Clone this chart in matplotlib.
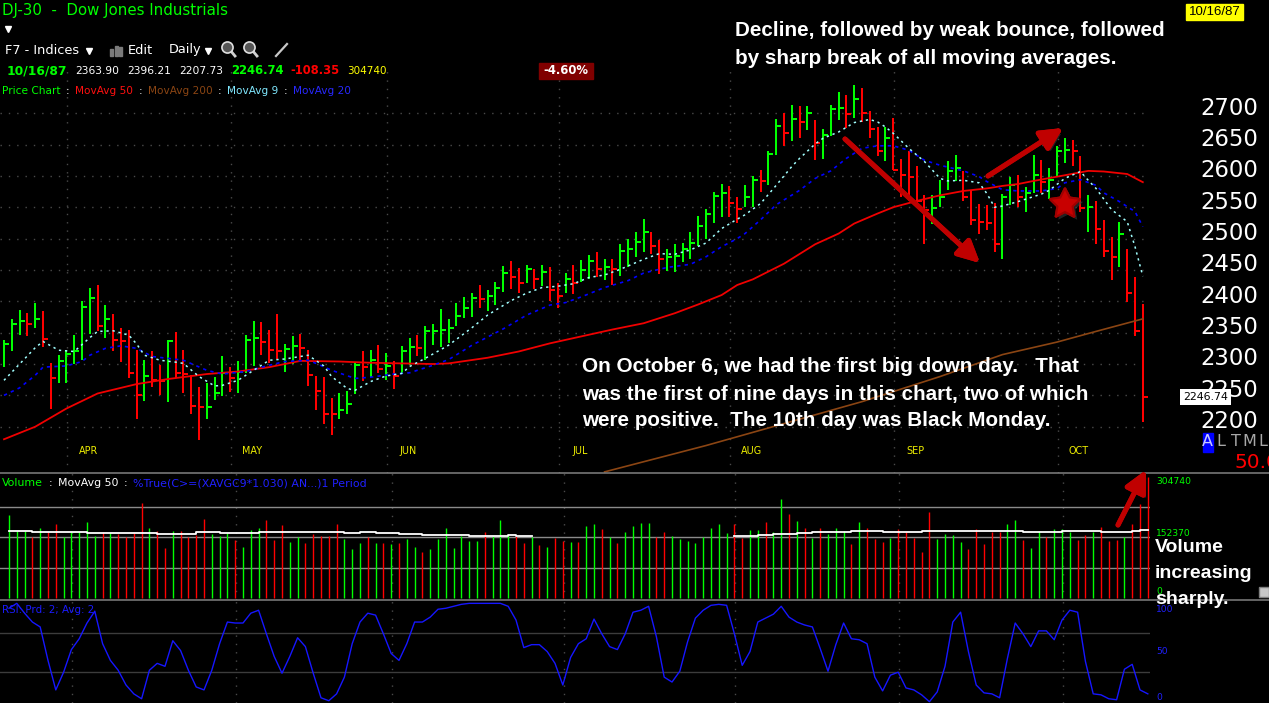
import matplotlib
matplotlib.use("Agg")
import matplotlib.pyplot as plt
import matplotlib.transforms as mtransforms
from matplotlib.patches import Rectangle, Polygon
import matplotlib.patheffects as pe
import numpy as np

# ---------------- data (DJ-30 daily, 20 Mar 1987 - 16 Oct 1987) ----------------
highs = [2339, 2371, 2386, 2382, 2398, 2384, 2301, 2314, 2323, 2346,
         2400, 2422, 2426, 2394, 2380, 2358, 2354, 2322, 2306, 2320,
         2298, 2339, 2351, 2322, 2282, 2264, 2269, 2280, 2313, 2296,
         2305, 2346, 2369, 2367, 2355, 2380, 2332, 2345, 2348, 2322,
         2281, 2280, 2246, 2253, 2257, 2302, 2320, 2322, 2330, 2317,
         2305, 2329, 2341, 2346, 2361, 2364, 2387, 2372, 2398, 2407,
         2414, 2426, 2418, 2431, 2456, 2465, 2453, 2458, 2451, 2458,
         2454, 2429, 2445, 2458, 2466, 2474, 2478, 2468, 2468, 2491,
         2500, 2511, 2531, 2510, 2498, 2484, 2491, 2493, 2511, 2536,
         2547, 2574, 2587, 2584, 2567, 2585, 2600, 2609, 2639, 2690,
         2700, 2713, 2711, 2711, 2689, 2674, 2713, 2734, 2729, 2745,
         2740, 2703, 2678, 2678, 2693, 2627, 2639, 2616, 2569, 2569,
         2593, 2623, 2633, 2608, 2578, 2555, 2553, 2557, 2571, 2599,
         2601, 2583, 2633, 2625, 2612, 2648, 2660, 2657, 2632, 2570,
         2560, 2530, 2503, 2527, 2483, 2438, 2396.21]
lows = [2295, 2321, 2346, 2344, 2357, 2327, 2228, 2270, 2270, 2300,
        2306, 2348, 2352, 2342, 2320, 2304, 2277, 2213, 2241, 2264,
        2250, 2240, 2277, 2254, 2221, 2179, 2213, 2243, 2249, 2256,
        2254, 2285, 2297, 2314, 2301, 2308, 2288, 2300, 2306, 2265,
        2226, 2205, 2187, 2212, 2220, 2252, 2273, 2279, 2285, 2275,
        2260, 2285, 2298, 2312, 2306, 2330, 2327, 2333, 2360, 2374,
        2375, 2389, 2385, 2394, 2415, 2419, 2413, 2429, 2419, 2424,
        2401, 2390, 2413, 2412, 2430, 2435, 2438, 2434, 2426, 2440,
        2455, 2471, 2479, 2475, 2443, 2449, 2446, 2463, 2468, 2488,
        2500, 2525, 2535, 2535, 2525, 2551, 2551, 2575, 2585, 2633,
        2647, 2655, 2660, 2673, 2625, 2627, 2664, 2689, 2676, 2693,
        2686, 2660, 2632, 2623, 2609, 2567, 2560, 2551, 2492, 2523,
        2551, 2577, 2592, 2560, 2522, 2507, 2514, 2479, 2468, 2554,
        2551, 2543, 2572, 2572, 2563, 2599, 2621, 2615, 2543, 2511,
        2491, 2471, 2434, 2455, 2399, 2344, 2207.73]
closes = [2332, 2364, 2369, 2364, 2372, 2340, 2278, 2305, 2316, 2320,
          2391, 2405, 2361, 2371, 2338, 2337, 2286, 2251, 2281, 2275,
          2273, 2337, 2285, 2284, 2233, 2231, 2232, 2253, 2285, 2277,
          2288, 2338, 2341, 2335, 2322, 2321, 2324, 2329, 2325, 2282,
          2257, 2221, 2220, 2227, 2236, 2298, 2296, 2306, 2292, 2297,
          2281, 2321, 2327, 2325, 2352, 2353, 2355, 2358, 2377, 2390,
          2406, 2404, 2408, 2422, 2445, 2438, 2429, 2451, 2436, 2447,
          2418, 2409, 2436, 2429, 2450, 2464, 2451, 2454, 2452, 2480,
          2483, 2495, 2510, 2488, 2467, 2471, 2472, 2484, 2493, 2520,
          2539, 2568, 2572, 2556, 2548, 2566, 2593, 2592, 2635, 2680,
          2669, 2690, 2686, 2700, 2653, 2665, 2706, 2709, 2698, 2722,
          2701, 2675, 2640, 2661, 2610, 2601, 2599, 2560, 2546, 2549,
          2566, 2608, 2612, 2567, 2530, 2527, 2525, 2492, 2567, 2585,
          2566, 2573, 2601, 2591, 2594, 2640, 2641, 2639, 2549, 2551,
          2516, 2481, 2471, 2507, 2413, 2353, 2246.74]
prev_close0 = 2320

volume = [209500, 169700, 168100, 153200, 177200, 165600, 187100, 153200, 165600, 165600,
          192100, 157300, 167300, 163900, 162300, 153200, 163900, 240100, 177200, 169700,
          125000, 169700, 168100, 153200, 159800, 198700, 162300, 157300, 163900, 144900,
          128300, 172200, 177200, 195400, 144900, 183000, 140800, 153200, 137400, 162300,
          157300, 157300, 187100, 148200, 122500, 137400, 153200, 137400, 137400, 135000,
          137400, 148200, 128300, 115900, 122500, 148200, 177200, 125000, 157300, 142400,
          142400, 167300, 155000, 197100, 159800, 155700, 137400, 153200, 134100, 128300,
          149900, 142400,
          140800, 140800, 180500, 187100, 174700, 152400, 137400, 167300, 182200, 189600,
          189600, 152400, 167300, 157300, 147400, 142400, 137400, 152400, 177200, 187100,
          164800, 187100, 149900, 172200, 172200, 192100, 167300, 249200, 212000, 194600,
          177200, 149900, 177200, 162300, 177200, 169700, 135000, 192100, 177200, 147400,
          139900, 149900, 174700, 167300, 149900, 115100, 216900, 147400, 162300, 159800,
          139900, 122500, 174700, 135000, 167300, 167300, 187100, 197100, 144900, 125000,
          169700, 152400, 174700, 174700, 167300, 144900, 159800, 167300, 179700, 142400,
          144900, 152400, 187100, 236800, 304740]

rsi = [95, 100, 90, 81, 76, 42, 12, 30, 53, 64,
       80, 92, 59, 42, 32, 17, 8, 3, 32, 39,
       36, 62, 52, 32, 15, 12, 32, 59, 81, 80,
       80, 90, 93, 69, 46, 29, 46, 65, 56, 29,
       4, 1, 8, 25, 59, 81, 90, 88, 69, 49,
       42, 59, 81, 81, 86, 94, 95, 97, 99, 100,
       100, 100, 100, 100, 97, 83, 55, 58, 58, 51,
       39, 17,
       45, 59, 64, 84, 69, 56, 53, 69, 91, 93,
       97, 66, 25, 20, 31, 61, 85, 93, 98, 99,
       98, 69, 37, 51, 81, 85, 89, 97, 86, 81,
       78, 76, 54, 31, 58, 80, 64, 63, 59, 25,
       11, 27, 30, 14, 12, 7, 0, 10, 36, 81,
       91, 51, 17, 9, 8, 4, 44, 80, 69, 56,
       72, 72, 63, 83, 93, 91, 41, 8, 7, 3,
       2, 33, 38, 12, 8]

ma50_idx = [0, 4, 8, 12, 17, 21, 26, 30, 34, 38, 43, 47, 51, 55, 57, 62, 66, 70, 74, 78,
            82, 86, 89, 92, 94, 96, 100, 104, 107, 109, 112, 114, 117, 120, 123, 126, 128,
            130, 132, 136, 139, 141, 144, 146]
ma50_val = [2180, 2200, 2229, 2253, 2268, 2276, 2284, 2288, 2295, 2305, 2304, 2302, 2301, 2300,
            2301, 2310, 2320, 2333, 2344, 2355, 2365, 2381, 2395, 2410, 2426, 2435, 2460, 2491,
            2508, 2524, 2540, 2550, 2560, 2569, 2576, 2580, 2584, 2587, 2592, 2601, 2608, 2607,
            2603, 2590]
ma200_idx = [77, 90, 100, 110, 120, 128, 135, 140, 146]
ma200_val = [2128, 2170, 2205, 2240, 2280, 2315, 2335, 2352, 2372]
ma9_idx = [0, 2, 4, 5, 7, 9, 11, 12, 14, 16, 17, 18, 20, 22, 23, 25, 27, 28, 30, 32,
           34, 36, 38, 39, 41, 42, 44, 45, 47, 49, 51, 52, 54, 56, 57, 60, 62, 65, 67, 69,
           71, 73, 75, 77, 79, 82, 84, 86, 88, 90, 92, 94, 95, 97, 99, 101, 102, 104, 105, 107,
           109, 111, 112, 113, 114, 116, 118, 120, 121, 123, 125, 126, 127, 128, 130, 133, 134,
           136, 138, 139, 140, 142, 144, 145, 146]
ma9_val = [2274, 2300, 2326, 2336, 2322, 2320, 2342, 2352, 2353, 2346, 2332, 2314, 2306, 2303,
           2301, 2280, 2265, 2266, 2274, 2290, 2306, 2308, 2312, 2314, 2297, 2280, 2261, 2258,
           2272, 2281, 2285, 2296, 2309, 2323, 2330, 2358, 2378, 2401, 2413, 2422, 2424, 2428,
           2438, 2442, 2451, 2467, 2476, 2475, 2482, 2493, 2516, 2531, 2538, 2556, 2585, 2615,
           2628, 2651, 2660, 2670, 2685, 2690, 2686, 2678, 2668, 2644, 2623, 2596, 2592, 2593,
           2589, 2572, 2550, 2552, 2559, 2571, 2577, 2596, 2607, 2593, 2580, 2546, 2527, 2487,
           2440]
ma20_idx = [0, 2, 4, 5, 8, 10, 11, 13, 15, 17, 19, 21, 23, 26, 28, 31, 34, 36, 39, 40,
            42, 45, 47, 50, 52, 55, 57, 60, 64, 67, 70, 72, 74, 77, 80, 82, 85, 88, 90, 92,
            94, 95, 97, 99, 102, 104, 106, 108, 110, 112, 114, 116, 118, 120, 121, 123, 125,
            126, 128, 130, 133, 135, 136, 138, 140, 141, 143, 145, 146]
ma20_val = [2250, 2262, 2282, 2295, 2297, 2304, 2314, 2325, 2329, 2325, 2312, 2309, 2306, 2290,
            2284, 2288, 2298, 2304, 2306, 2301, 2290, 2277, 2279, 2284, 2286, 2298, 2307, 2330,
            2356, 2378, 2394, 2398, 2407, 2422, 2433, 2445, 2454, 2459, 2471, 2487, 2500, 2508,
            2530, 2554, 2577, 2596, 2608, 2628, 2644, 2648, 2648, 2641, 2625, 2617, 2614, 2608,
            2599, 2591, 2578, 2576, 2576, 2580, 2589, 2594, 2585, 2573, 2559, 2543, 2519]
vma1_idx = [0, 1, 3, 10, 19, 24, 27, 32, 43, 45, 47, 50, 53, 59, 64, 65, 67]
vma1_val = [168084, 169740, 166428, 163944, 161460, 167256, 163944, 167256, 163944, 167256,
            163944, 161460, 158976, 155664, 158976, 155664, 155664]
vma2_idx = [93, 96, 98, 101, 103, 108, 112, 117, 130, 135, 140, 144, 145, 146]
vma2_val = [155664, 158976, 162288, 164772, 167256, 169740, 167256, 169740, 167256, 169740,
            167256, 169740, 172224, 172224]

month_labels = ['APR', 'MAY', 'JUN', 'JUL', 'AUG', 'SEP', 'OCT']
month_start = [8, 29, 49, 71, 93, 114, 135]
price_ticks = [2200, 2250, 2300, 2350, 2400, 2450, 2500, 2550, 2600, 2650, 2700]
vol_max = 304740
vol_grid = [vol_max * 0.25, vol_max * 0.5, vol_max * 0.75]
rsi_grid = [30, 70]

# ---------------- styling ----------------
GREEN = '#00FF00'
RED = '#FF0000'
GRID = '#4a4a4a'
DOT = (0, (1, 5))
W, H = 1269, 703

n = len(closes)
x = np.arange(n)
prev = [prev_close0] + closes[:-1]
bar_colors = [GREEN if c >= p else RED for c, p in zip(closes, prev)]

fig = plt.figure(figsize=(W / 100, H / 100), dpi=100)
fig.patch.set_facecolor('black')


def rect(x0, y0, x1, y1):
    return [x0 / W, 1 - y1 / H, (x1 - x0) / W, (y1 - y0) / H]


X0, X1 = -0.513, 146.92
SH = 0.64
ax_p = fig.add_axes(rect(0, 0, 1150, 473))
ax_v = fig.add_axes(rect(0, 473, 1150, 600))
ax_r = fig.add_axes(rect(0, 600, 1150, 703))
for a in (ax_p, ax_v, ax_r):
    a.set_axis_off()
ax_p.set_xlim(X0, X1)
ax_p.set_ylim(2126.2, 2880.5)
ax_v.set_xlim(X0 - SH, X1 - SH)
ax_v.set_ylim(-5000, 314655)
ax_r.set_xlim(X0 - SH, X1 - SH)
ax_r.set_ylim(-1.3, 103.4)

ax_o = fig.add_axes([0, 0, 1, 1], zorder=10)
ax_o.set_xlim(0, W)
ax_o.set_ylim(H, 0)
ax_o.set_axis_off()
ax_o.patch.set_alpha(0)

# ---------------- price panel ----------------
for p in price_ticks:
    ax_p.axhline(p, color=GRID, lw=1, ls=DOT, zorder=1)
for ms in month_start:
    ax_p.axvline(ms + 0.1, ymin=0, ymax=0.86, color=GRID, lw=1, ls=DOT, zorder=1)
    ax_v.axvline(ms + 0.1, color=GRID, lw=1, ls=DOT, zorder=1)
    ax_r.axvline(ms + 0.1, color=GRID, lw=1, ls=DOT, zorder=1)

ax_p.vlines(x, lows, highs, colors=bar_colors, lw=1.45, zorder=3)
ax_p.hlines(closes, x, x + 0.64, colors=bar_colors, lw=1.45, zorder=3)

ax_p.plot(ma200_idx, ma200_val, color='#8B4513', lw=1.2, zorder=4)
ax_p.plot(ma50_idx, ma50_val, color='#F00000', lw=1.3, zorder=4)
ax_p.plot(ma20_idx, ma20_val, color='#0000FF', lw=1.2, ls=(0, (2, 2.5)), zorder=4)
ax_p.plot(ma9_idx, ma9_val, color='#A0FFFF', lw=1.1, ls=(0, (1.5, 2.5)), zorder=5)

tr_label = mtransforms.blended_transform_factory(ax_p.transData, ax_o.transData)
for ms, lab in zip(month_start, month_labels):
    ax_p.text(ms + 2.8, 451, lab, transform=tr_label, color='#EEEE00', fontsize=6.9,
              ha='center', va='center', family='DejaVu Sans')

tr_right = mtransforms.blended_transform_factory(ax_o.transData, ax_p.transData)
for p in price_ticks:
    ax_o.text(1200, p + 8, str(p), transform=tr_right, color='white', fontsize=16.4,
              ha='left', va='center', family='DejaVu Sans')
ax_o.text(1205.5, closes[-1], '%.2f' % closes[-1], transform=tr_right, color='black',
          fontsize=7.9, ha='center', va='center', family='DejaVu Sans',
          bbox=dict(boxstyle='square,pad=0.28', fc='white', ec='none'))

# ---------------- volume panel ----------------
for g in vol_grid:
    ax_v.axhline(g, color='#8a8a8a', lw=1, zorder=1)
ax_v.vlines(x, 0, volume, colors=bar_colors, lw=1.0, zorder=3)
ax_v.step(vma1_idx, vma1_val, where='post', color='white', lw=1.3, zorder=4)
ax_v.step(vma2_idx, vma2_val, where='post', color='white', lw=1.3, zorder=4)

# ---------------- RSI panel ----------------
for g in rsi_grid:
    ax_r.axhline(g, color='#3c3c3c', lw=1, zorder=1)
ax_r.plot(x, rsi, color='#1616FF', lw=1.0, zorder=3)

# separators
ax_o.plot([0, W], [473, 473], color='#808080', lw=1.1)
ax_o.plot([0, W], [600, 600], color='#808080', lw=1.1)


# ---------------- header texts ----------------
def T(xp, yp, s, color='white', size=8, weight='normal', family='DejaVu Sans', ha='left', **kw):
    return ax_o.text(xp, yp, s, color=color, fontsize=size, fontweight=weight, family=family,
                     ha=ha, va='center', **kw)


renderer = fig.canvas.get_renderer()


def seq(xp, yp, pieces, size, gap=4.5):
    cur = xp
    for s, c in pieces:
        t = T(cur, yp, s, c, size)
        bb = t.get_window_extent(renderer)
        cur = cur + bb.width + gap


T(2, 11, 'DJ-30  -  Dow Jones Industrials', GREEN, 10.8)
ax_o.plot(8, 29, marker='v', color='white', ms=4.5)
T(5, 50, 'F7 - Indices', 'white', 9.3)
ax_o.plot(89, 51, marker='v', color='white', ms=4)
for bx, by in [(110, 49), (114.5, 46), (119, 47)]:
    ax_o.add_patch(Rectangle((bx, by), 3, 56 - by, color='#7a7a7a'))
T(128, 50, 'Edit', 'white', 9.3)
T(169, 50, 'Daily', 'white', 9.3)
ax_o.plot(208, 51, marker='v', color='white', ms=4)
for cx in (227, 249):
    ax_o.plot([cx + 3, cx + 8], [50, 56], color='#d0d0d0', lw=2)
    ax_o.plot(cx, 47, marker='o', mfc='#555555', mec='#e0e0e0', ms=8, mew=1.2)
ax_o.plot([276, 287], [56, 44], color='#c8c8c8', lw=1.6)

T(7, 71, '10/16/87', GREEN, 8.8, 'bold')
T(75, 71, '2363.90', 'white', 7.7)
T(127, 71, '2396.21', 'white', 7.7)
T(179, 71, '2207.73', 'white', 7.7)
T(231, 71, '2246.74', GREEN, 8.4, 'bold')
T(290, 71, '-108.35', RED, 8.3, 'bold')
T(347, 71, '304740', '#FFFF00', 7.5)
ax_o.add_patch(Rectangle((539, 63), 54, 16, color='#800000'))
T(566, 71, '-4.60%', 'white', 8.4, 'bold', ha='center')

seq(2, 91, [('Price Chart', GREEN), (':', 'white'), ('MovAvg 50', '#FF1010'), (':', 'white'),
            ('MovAvg 200', '#8B4513'), (':', 'white'), ('MovAvg 9', '#80E8FF'), (':', 'white'),
            ('MovAvg 20', '#2828FF')], 7.6, gap=5.5)
seq(2, 483, [('Volume', GREEN), (':', 'white'), ('MovAvg 50', 'white'), (':', 'white'),
             ('%True(C>=(XAVGC9*1.030) AN...)1 Period', '#2020FF')], 7.9, gap=5.5)
T(2, 610, 'RSI: Prd: 2; Avg: 2', '#1a1aff', 7.4)

ax_o.add_patch(Rectangle((1186, 4), 57, 16, color='#FFFF00'))
T(1214.5, 12, '10/16/87', 'black', 9.5, family='Liberation Sans', ha='center')

ax_o.add_patch(Rectangle((1203, 433), 9.5, 19, color='#0000FF'))
T(1207.7, 442, 'A', '#C8C8FF', 11.5, ha='center')
for xp, s in [(1220.5, 'L'), (1235.5, 'T'), (1249.5, 'M'), (1263, 'L')]:
    T(xp, 442, s, '#A8A8A8', 11.5, ha='center')
T(1234, 462, '50.0', RED, 14.5)

T(1156, 481, '304740', GREEN, 6.6)
T(1156, 533, '152370', GREEN, 6.6)
T(1156, 592, '0', GREEN, 6.6)
T(1156, 609, '100', '#2020FF', 6.6)
T(1156, 652, '50', '#2020FF', 6.6)
T(1156, 697, '0', '#2020FF', 6.6)
ax_o.add_patch(Rectangle((1259, 587), 10, 10, fc='#C8C8C8', ec='#808080', lw=1))

# ---------------- annotations ----------------
AF = 'Liberation Sans'
FS = 14.9
T(735, 31, 'Decline, followed by weak bounce, followed', 'white', FS, 'bold', AF)
T(735, 58, 'by sharp break of all moving averages.', 'white', FS, 'bold', AF)
T(582, 367, 'On October 6, we had the first big down day.   That', 'white', FS, 'bold', AF)
T(582, 394, 'was the first of nine days in this chart, two of which', 'white', FS, 'bold', AF)
T(582, 420, 'were positive.  The 10th day was Black Monday.', 'white', FS, 'bold', AF)
T(1155, 547, 'Volume', 'white', 14.0, 'bold', AF)
T(1155, 573, 'increasing', 'white', 14.0, 'bold', AF)
T(1155, 599, 'sharply.', 'white', 14.0, 'bold', AF)

ARROW = '#C00000'
shadow = [pe.withSimplePatchShadow(offset=(2, -2), shadow_rgbFace='#3a3a3a', alpha=0.6), pe.Normal()]
for (xs, ys), (xe, ye) in [((845, 139), (980, 263)), ((988, 176), (1063, 128)),
                           ((1118, 525), (1146, 470))]:
    ann = ax_o.annotate('', xy=(xe, ye), xytext=(xs, ys),
                        arrowprops=dict(arrowstyle='-|>,head_length=1.3,head_width=0.65',
                                        lw=3.6, color=ARROW, shrinkA=0, shrinkB=0,
                                        mutation_scale=10))
    ann.arrow_patch.set_path_effects(shadow)

cx, cy, R, r_in = 1065, 204, 16, 8
ang = -np.pi / 2 + np.arange(10) * np.pi / 5
rad = np.where(np.arange(10) % 2 == 0, R, r_in)
star = Polygon(np.column_stack([cx + rad * np.cos(ang), cy + rad * np.sin(ang)]),
               closed=True, fc='#C80000', ec='#A00000', lw=1.5)
star.set_path_effects(shadow)
ax_o.add_patch(star)

fig.savefig('out.png', dpi=100, facecolor='black')
